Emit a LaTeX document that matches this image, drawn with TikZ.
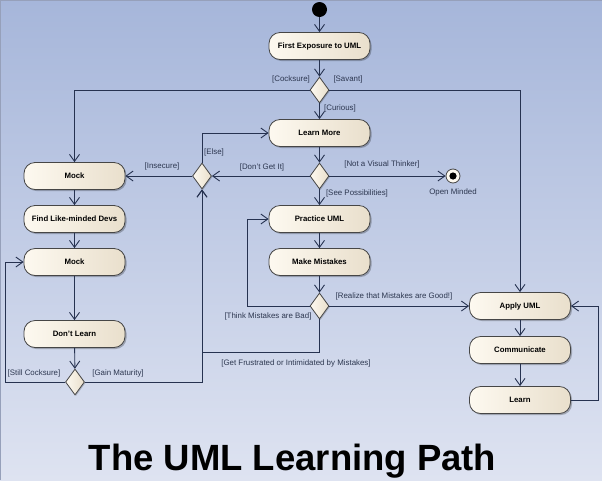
\documentclass[tikz,border=0pt]{standalone}
\usepackage{fontspec}
\setmainfont{Liberation Sans}
\usetikzlibrary{shapes.geometric,arrows.meta,shadows}
\definecolor{bgtop}{RGB}{166,182,218}
\definecolor{bgbot}{RGB}{222,227,241}
\definecolor{edgec}{RGB}{38,50,80}
\definecolor{boxl}{RGB}{253,249,240}
\definecolor{boxr}{RGB}{233,223,204}
\definecolor{boxline}{RGB}{70,70,70}
\definecolor{lblc}{RGB}{45,55,80}
\definecolor{framec}{RGB}{150,160,186}
\newcommand{\actfont}{\fontsize{7.8}{9}\selectfont\bfseries}
\newcommand{\lblfont}{\fontsize{7.9}{9}\selectfont}
\begin{document}
\begin{tikzpicture}[x=1pt,y=-1pt,
  act/.style={rectangle, rounded corners=11pt, draw=boxline, line width=0.8pt,
    minimum width=101pt, minimum height=27pt, inner sep=0pt,
    left color=boxl, right color=boxr, font=\actfont,
    drop shadow={shadow xshift=1.5pt, shadow yshift=-1.5pt, fill=black, opacity=0.25}},
  dec/.style={diamond, draw=boxline, line width=0.8pt, minimum width=19pt,
    minimum height=26pt, inner sep=0pt, left color=boxl, right color=boxr,
    drop shadow={shadow xshift=1pt, shadow yshift=-1pt, fill=black, opacity=0.2}},
  lbl/.style={font=\lblfont, text=lblc, inner sep=0pt},
  flow/.style={draw=edgec, line width=0.9pt, -{Straight Barb[length=7pt,width=10pt]}},
  plain/.style={draw=edgec, line width=0.9pt}
]
\useasboundingbox (0,0) rectangle (602,480);
\shade[top color=bgtop, bottom color=bgbot] (0,0) rectangle (602,480);
\draw[framec, line width=1pt] (0,0.5) -- (602,0.5);
\draw[framec, line width=0.6pt] (0.3,0) -- (0.3,480);

% nodes
\node[circle, fill=black, minimum size=15pt, inner sep=0pt] (init) at (319.5,9.5) {};
\node[act] (first) at (319.5,46) {First Exposure to UML};
\node[dec] (d1) at (319.5,90) {};
\node[act] (learn) at (319.5,133) {Learn More};
\node[dec] (d2) at (319.5,176) {};
\node[circle, draw=boxline, line width=0.8pt, fill=boxl, minimum size=14pt, inner sep=0pt] (fin) at (453,176) {};
\fill[black] (fin.center) circle[radius=3.6pt];
\node[dec] (d3) at (202,176) {};
\node[act] (mock1) at (74.5,176) {Mock};
\node[act] (find) at (74.5,219) {Find Like-minded Devs};
\node[act] (mock2) at (74.5,262) {Mock};
\node[act] (dont) at (74.5,334) {Don't Learn};
\node[dec] (d4) at (75,382) {};
\node[act] (practice) at (319.5,219) {Practice UML};
\node[act] (mistakes) at (319.5,262) {Make Mistakes};
\node[dec] (d5) at (319.5,306) {};
\node[act] (apply) at (520,306) {Apply UML};
\node[act] (comm) at (520,350) {Communicate};
\node[act] (lrn) at (520,400) {Learn};

\coordinate (sc) at (5,382);
\coordinate (tm) at (247,306);
\coordinate (gf) at (202,352);
\coordinate (lp) at (598,400);

% connectors
\draw[flow] (init) -- (first);
\draw[flow] (first) -- (d1);
\draw[flow] (d1) -- (learn);
\draw[flow] (d1.west) -| (mock1.north);
\draw[flow] (d1.east) -| (apply.north);
\draw[flow] (learn) -- (d2);
\draw[flow] (d2) -- (practice);
\draw[flow] (d2.east) -- (fin.west);
\draw[flow] (d2.west) -- (d3.east);
\draw[flow] (d3.west) -- (mock1.east);
\draw[flow] (d3.north) |- (learn.west);
\draw[flow] (mock1) -- (find);
\draw[flow] (find) -- (mock2);
\draw[flow] (mock2) -- (dont);
\draw[flow] (dont) -- (d4);
\draw[flow] (d4.west) -- (sc) |- (mock2.west);
\draw[flow] (d4.east) -| (d3.south);
\draw[flow] (practice) -- (mistakes);
\draw[flow] (mistakes) -- (d5);
\draw[flow] (d5.east) -- (apply.west);
\draw[flow] (d5.west) -- (tm) |- (practice.west);
\draw[flow] (d5.south) |- (gf) -- (d3.south);
\draw[flow] (apply) -- (comm);
\draw[flow] (comm) -- (lrn);
\draw[flow] (lrn.east) -- (lp) |- (apply.east);

% labels
\node[lbl] (lcock) at (291,79) {[Cocksure]};
\node[lbl] (lsav) at (348,79) {[Savant]};
\node[lbl] (lcur) at (340,108) {[Curious]};
\node[lbl] (lnvt) at (382,164) {[Not a Visual Thinker]};
\node[lbl] (lopen) at (453,192) {Open Minded};
\node[lbl] (lsee) at (357,193) {[See Possibilities]};
\node[lbl] (ldont) at (262,167) {[Don't Get It]};
\node[lbl] (lelse) at (214,152) {[Else]};
\node[lbl] (lins) at (162,166) {[Insecure]};
\node[lbl] (lstill) at (34,373) {[Still Cocksure]};
\node[lbl] (lgain) at (118,373) {[Gain Maturity]};
\node[lbl] (lthink) at (268,316) {[Think Mistakes are Bad]};
\node[lbl] (lfrus) at (296,363) {[Get Frustrated or Intimidated by Mistakes]};
\node[lbl] (lreal) at (394,296) {[Realize that Mistakes are Good!]};

\node[font=\fontsize{36.5}{40}\selectfont\bfseries, anchor=base, inner sep=0pt] (title) at (292.5,470) {The UML Learning Path};
\end{tikzpicture}
\end{document}
